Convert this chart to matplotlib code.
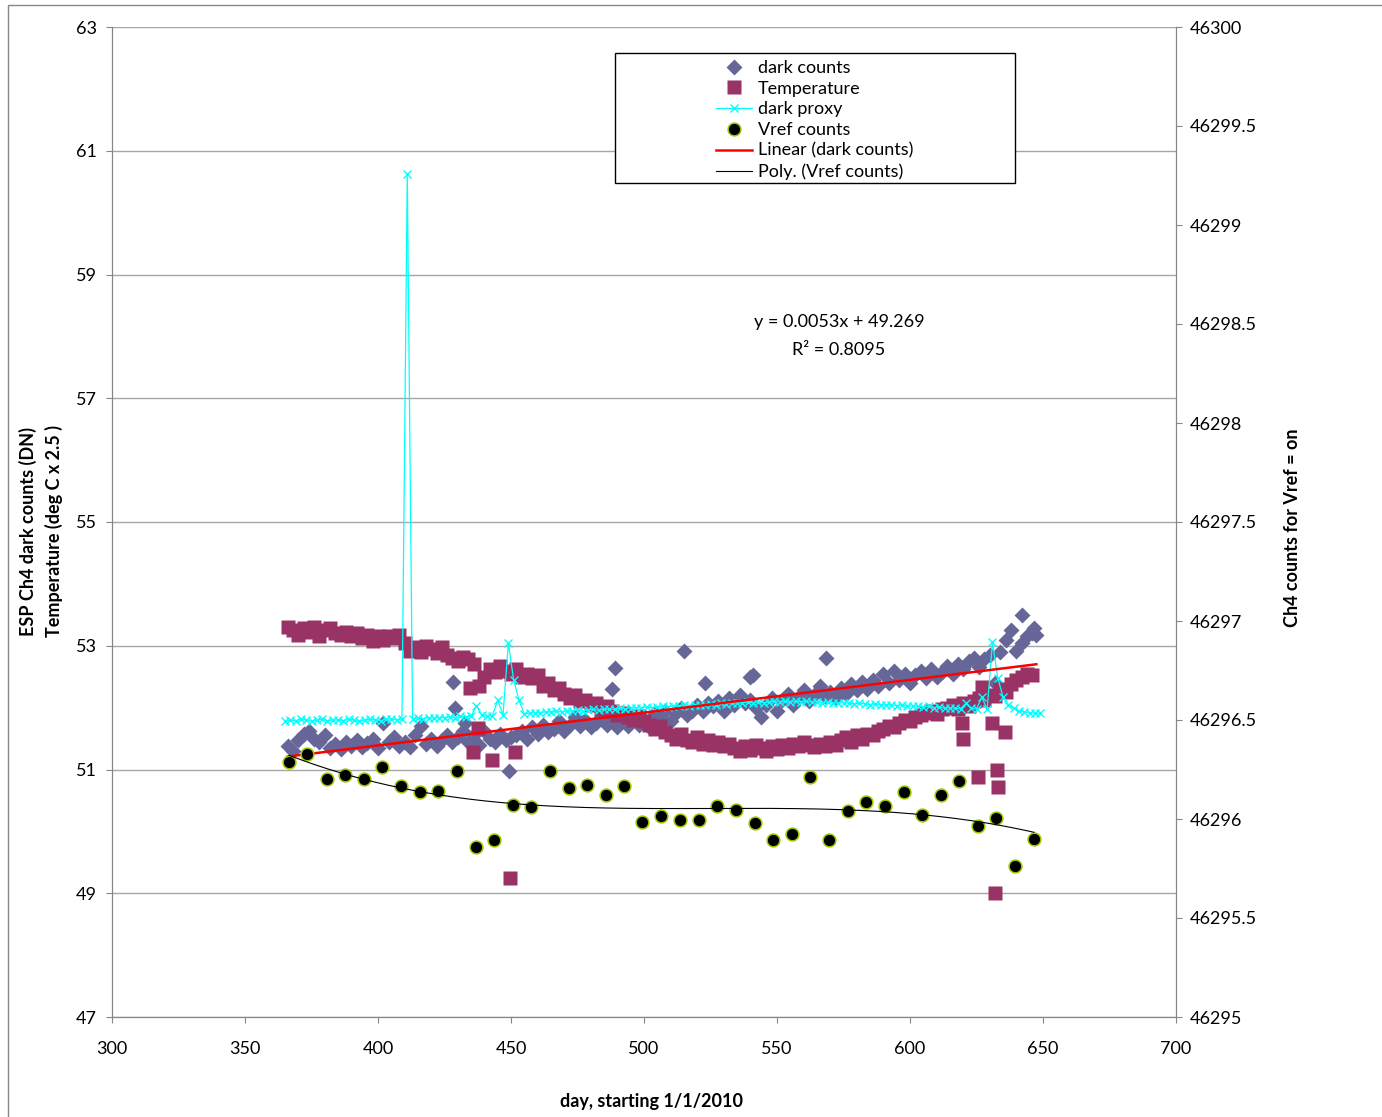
"""ESP Ch4 dark counts, temperature, dark proxy and Vref counts vs day (2010-2011)."""
import matplotlib
matplotlib.use("Agg")
import matplotlib.pyplot as plt
import numpy as np
from matplotlib.lines import Line2D
from matplotlib.patches import Rectangle

plt.rcParams["font.family"] = ["Lato", "DejaVu Sans"]

# --- dark counts (DN), every other day, plus the scattered outliers ---
dark_days = np.arange(366, 647, 2)
dark_counts = [
    51.38, 51.30, 51.47, 51.58, 51.62, 51.50, 51.44, 51.56, 51.35, 51.42,
    51.33, 51.45, 51.38, 51.47, 51.36, 51.43, 51.50, 51.35, 51.75, 51.44,
    51.52, 51.38, 51.45, 51.36, 51.55, 51.70, 51.42, 51.50, 51.38, 51.48,
    51.55, 51.45, 51.52, 51.62, 51.45, 51.55, 51.40, 51.62, 51.50, 51.45,
    51.58, 51.48, 51.52, 51.55, 51.62, 51.50, 51.68, 51.58, 51.72, 51.60,
    51.65, 51.78, 51.62, 51.72, 51.85, 51.70, 51.80, 51.68, 51.75, 51.85,
    51.72, 51.80, 51.68, 51.78, 51.70, 51.85, 51.72, 51.80, 51.68, 51.90,
    51.85, 51.95, 51.78, 51.92, 52.00, 51.88, 51.95, 52.05, 51.95, 52.08,
    52.02, 52.10, 51.95, 52.15, 52.05, 52.20, 52.08, 52.12, 52.00, 51.85,
    52.05, 52.15, 51.95, 52.12, 52.22, 52.05, 52.15, 52.28, 52.10, 52.20,
    52.35, 52.18, 52.25, 52.15, 52.32, 52.22, 52.38, 52.28, 52.42, 52.30,
    52.45, 52.35, 52.55, 52.40, 52.60, 52.45, 52.55, 52.40, 52.52, 52.60,
    52.48, 52.62, 52.50, 52.58, 52.68, 52.55, 52.70, 52.62, 52.75, 52.80,
    52.65, 52.78, 52.85, 52.40, 52.90, 53.10, 53.25, 52.92, 53.05, 53.15,
    53.20,
]
dark_out_days = [428.2, 429.0, 432.7, 449.2, 488.0, 489.1, 515.0, 523.0,
                 540.0, 541.0, 568.4, 642.0, 646.5, 647.5]
dark_out_counts = [52.41, 51.99, 51.75, 50.98, 52.30, 52.64, 52.92, 52.40,
                   52.50, 52.53, 52.80, 53.49, 53.28, 53.17]

# --- temperature (deg C x 2.5) ---
temp_days = np.arange(366, 647, 2)
temp_vals = [
    53.30, 53.25, 53.18, 53.28, 53.22, 53.30, 53.15, 53.25, 53.28, 53.20,
    53.18, 53.22, 53.15, 53.20, 53.12, 53.18, 53.08, 53.15, 53.10, 53.16,
    53.12, 53.18, 53.05, 52.92, 52.98, 52.90, 53.00, 52.95, 52.88, 52.98,
    52.85, 52.80, 52.75, 52.82, 52.78, 52.70, 52.35, 52.50, 52.62, 52.58,
    52.68, 52.60, 52.55, 52.62, 52.50, 52.55, 52.48, 52.52, 52.35, 52.40,
    52.28, 52.32, 52.22, 52.15, 52.20, 52.10, 52.12, 52.05, 52.08, 51.98,
    52.02, 51.95, 51.88, 51.92, 51.85, 51.80, 51.86, 51.78, 51.72, 51.65,
    51.70, 51.60, 51.55, 51.50, 51.58, 51.48, 51.45, 51.52, 51.42, 51.48,
    51.40, 51.45, 51.38, 51.42, 51.35, 51.30, 51.38, 51.32, 51.40, 51.35,
    51.30, 51.38, 51.33, 51.40, 51.35, 51.42, 51.38, 51.45, 51.40, 51.36,
    51.42, 51.38, 51.45, 51.40, 51.48, 51.52, 51.45, 51.55, 51.50, 51.58,
    51.55, 51.62, 51.65, 51.70, 51.68, 51.75, 51.80, 51.78, 51.85, 51.88,
    51.92, 51.95, 51.90, 51.98, 52.00, 52.05, 51.98, 52.08, 52.02, 52.10,
    52.15, 52.12, 52.20, 52.18, 52.30, 52.25, 52.38, 52.45, 52.50, 52.55,
    52.52,
]
temp_out_days = [434.6, 435.7, 437.6, 443.0, 449.6, 451.5, 619.5, 620.0,
                 625.6, 627.0, 630.8, 632.7, 633.0, 632.0, 635.7]
temp_out_vals = [52.32, 51.28, 51.67, 51.15, 49.25, 51.28, 51.75, 51.50,
                 50.88, 52.33, 51.75, 50.99, 50.72, 49.00, 51.60]

# --- dark proxy ---
proxy_days = np.arange(365, 650, 2)
proxy_vals = [
    51.78, 51.80, 51.79, 51.81, 51.80, 51.78, 51.80, 51.81, 51.79, 51.80,
    51.80, 51.79, 51.81, 51.80, 51.78, 51.80, 51.81, 51.80, 51.79, 51.81,
    51.82, 51.80, 51.82, 60.63, 51.82, 51.83, 51.82, 51.84, 51.83, 51.84,
    51.84, 51.85, 51.84, 51.86, 51.85, 51.86, 52.03, 51.88, 51.86, 51.87,
    52.12, 51.88, 53.04, 52.45, 52.12, 51.90, 51.91, 51.92, 51.92, 51.93,
    51.93, 51.94, 51.93, 51.95, 51.94, 51.96, 51.95, 51.96, 51.97, 51.96,
    51.97, 51.98, 51.97, 51.99, 51.98, 52.00, 51.99, 52.00, 52.01, 52.00,
    52.01, 52.02, 52.01, 52.03, 52.02, 52.04, 52.03, 52.05, 52.04, 52.05,
    52.06, 52.05, 52.07, 52.06, 52.08, 52.07, 52.08, 52.09, 52.08, 52.09,
    52.08, 52.09, 52.10, 52.09, 52.10, 52.09, 52.10, 52.09, 52.10, 52.09,
    52.09, 52.08, 52.09, 52.08, 52.07, 52.08, 52.07, 52.06, 52.07, 52.06,
    52.05, 52.06, 52.05, 52.04, 52.05, 52.03, 52.04, 52.02, 52.03, 52.02,
    52.01, 52.02, 52.00, 52.01, 51.99, 52.00, 51.99, 51.98, 52.07, 51.99,
    51.98, 52.17, 51.97, 53.06, 52.48, 52.17, 52.04, 51.99, 51.95, 51.93,
    51.92, 51.91, 51.91,
]

# --- Vref counts (right axis), roughly weekly ---
vref_days = [366.5, 373.3, 380.8, 387.6, 394.7, 401.5, 408.6, 415.8, 422.6,
             429.7, 436.8, 443.6, 450.8, 457.5, 464.7, 471.8, 478.6, 485.7,
             492.5, 499.2, 506.4, 513.5, 520.7, 527.4, 534.6, 541.7, 548.5,
             555.6, 562.4, 569.5, 576.7, 583.5, 590.6, 597.7, 604.5, 611.7,
             618.4, 625.6, 632.3, 639.5, 646.6]
vref_counts = [46296.288, 46296.328, 46296.202, 46296.222, 46296.202,
               46296.263, 46296.167, 46296.136, 46296.141, 46296.242,
               46295.859, 46295.894, 46296.071, 46296.061, 46296.242,
               46296.157, 46296.172, 46296.121, 46296.167, 46295.985,
               46296.015, 46295.995, 46295.995, 46296.066, 46296.045,
               46295.980, 46295.894, 46295.924, 46296.212, 46295.894,
               46296.040, 46296.086, 46296.066, 46296.136, 46296.020,
               46296.121, 46296.192, 46295.965, 46296.005, 46295.763,
               46295.899]

# linear trend on dark counts, as printed on the chart
slope, intercept = 0.0053, 49.269
r_squared = 0.8095

C_DARK = "#666699"
C_TEMP = "#993366"
C_PROXY = "#00FFFF"
C_GRID = "#A6A6A6"
C_AXIS = "#868686"
FS = 13

W, H = 1382, 1117
fig = plt.figure(figsize=(W / 100, H / 100), dpi=100)
ax = fig.add_axes([112 / W, 1 - 1017 / H, (1176 - 112) / W, (1017 - 27) / H])
ax2 = ax.twinx()

# outer chart border
fig.add_artist(Rectangle((8 / W, -0.05), 1.2, (1117 - 5) / H + 0.05,
                         transform=fig.transFigure, fill=False,
                         edgecolor=C_AXIS, lw=1.0, clip_on=False))

ax.plot(dark_days, dark_counts, ls="none", marker="D", ms=7.7,
        color=C_DARK, mec="none", zorder=3)
ax.plot(dark_out_days, dark_out_counts, ls="none", marker="D", ms=7.7,
        color=C_DARK, mec="none", zorder=3)
ax.plot(temp_days, temp_vals, ls="none", marker="s", ms=9.6,
        color=C_TEMP, mec="none", zorder=4)
ax.plot(temp_out_days, temp_out_vals, ls="none", marker="s", ms=9.6,
        color=C_TEMP, mec="none", zorder=4)
ax.plot(proxy_days, proxy_vals, color=C_PROXY, lw=0.9, marker="x", ms=5.8,
        mew=1.0, zorder=5)

trend_x = np.array([min(dark_days), max(dark_out_days)])
ax.plot(trend_x, slope * trend_x + intercept, color="#FF0000", lw=1.8, zorder=6)

ax2.plot(vref_days, vref_counts, ls="none", marker="o", ms=9.2,
         color="black", mec="#99CC00", mew=1.1, zorder=3)
poly = np.polynomial.Polynomial.fit(vref_days, vref_counts, 3)
px = np.linspace(min(vref_days), max(vref_days), 300)
ax2.plot(px, poly(px), color="black", lw=0.8, zorder=4)

ax.set_xlim(300, 700)
ax.set_ylim(47, 63)
ax2.set_ylim(46295, 46300)
ax.set_xticks(np.arange(300, 701, 50))
ax.set_yticks(np.arange(47, 64, 2))
ax2.set_yticks(np.arange(46295, 46300.1, 0.5))
ax2.set_yticklabels([f"{v:g}" for v in np.arange(46295, 46300.1, 0.5)])
ax.yaxis.grid(True, color=C_GRID, lw=1.0)
ax.set_axisbelow(True)

for a in (ax, ax2):
    for sp in a.spines.values():
        sp.set_color(C_AXIS)
    a.spines["top"].set_visible(False)
    a.tick_params(direction="out", length=4.3, color=C_AXIS, labelsize=FS,
                  labelcolor="black")
ax.tick_params(axis="y", pad=6.5)
ax.tick_params(axis="x", pad=13)
ax2.tick_params(axis="y", pad=5.5)

fig.text(28 / W, 1 - 531 / H, "ESP Ch4 dark counts (DN)", rotation=90,
         ha="center", va="center", fontsize=FS, fontweight="bold")
fig.text(54 / W, 1 - 531 / H, "Temperature (deg C x 2.5 )", rotation=90,
         ha="center", va="center", fontsize=FS, fontweight="bold")
fig.text(1293 / W, 1 - 528 / H, "Ch4 counts for Vref = on", rotation=90,
         ha="center", va="center", fontsize=FS, fontweight="bold")
fig.text(652 / W, 1 - 1101 / H, "day, starting 1/1/2010",
         ha="center", va="center", fontsize=FS, fontweight="bold")

fig.text(839 / W, 1 - 322 / H, f"y = {slope}x + {intercept}",
         ha="center", va="center", fontsize=FS)
fig.text(839 / W, 1 - 350 / H, f"R² = {r_squared}",
         ha="center", va="center", fontsize=FS)

# legend in a fixed-size box
fig.add_artist(Rectangle((615 / W, 1 - 183 / H), 400 / W, 130 / H,
                         transform=fig.transFigure, facecolor="white",
                         edgecolor="black", lw=1.0, zorder=10))
handles = [
    Line2D([], [], ls="none", marker="D", ms=7.7, color=C_DARK, mec="none"),
    Line2D([], [], ls="none", marker="s", ms=9.6, color=C_TEMP, mec="none"),
    Line2D([], [], color=C_PROXY, lw=0.9, marker="x", ms=5.8, mew=1.0),
    Line2D([], [], ls="none", marker="o", ms=9.2, color="black",
           mec="#99CC00", mew=1.1),
    Line2D([], [], color="#FF0000", lw=1.8),
    Line2D([], [], color="black", lw=0.8),
]
labels = ["dark counts", "Temperature", "dark proxy", "Vref counts",
          "Linear (dark counts)", "Poly. (Vref counts)"]
leg = fig.legend(handles, labels, loc="upper left",
                 bbox_to_anchor=(716 / W, 1 - 60 / H), frameon=False,
                 fontsize=FS, handlelength=2.0, handletextpad=0.3,
                 labelspacing=0.26, borderpad=0, borderaxespad=0)
leg.set_zorder(11)

fig.savefig("out.png", dpi=100)
